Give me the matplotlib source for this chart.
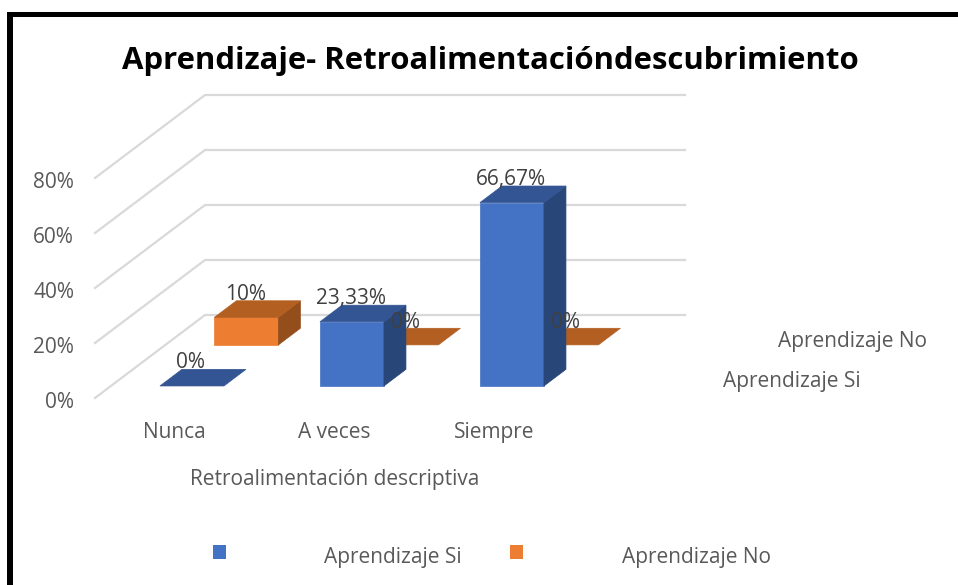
# Aprendizaje vs Retroalimentacion, 3D style bars drawn as sheared polygons
import matplotlib
matplotlib.use("Agg")
import matplotlib.pyplot as plt
from matplotlib.patches import Polygon, Rectangle

categories = ["Nunca", "A veces", "Siempre"]
si_values = [0, 23.33, 66.67]
no_values = [10, 0, 0]
si_labels = ["0%", "23,33%", "66,67%"]
no_labels = ["10%", "0%", "0%"]
ticks = [0, 20, 40, 60, 80]
tick_labels = ["0%", "20%", "40%", "60%", "80%"]

W, H = 958, 585
CAT_PX = 160.0      # pixels between categories
VAL_PX = 2.75       # pixels per percent
X0, Y0 = 176.0, 398.0   # pixel of category 0, value 0 on the front edge
WALL_DX = 110 / CAT_PX
WALL_DY = 83 / VAL_PX
BAR_W = 0.4
BAR_D = 0.2

BLUE, BLUE_TOP, BLUE_SIDE = "#4472c4", "#335593", "#294679"
ORANGE, ORANGE_TOP, ORANGE_SIDE = "#ed7d31", "#b45f22", "#934e1b"
TEXT = "#595959"
LABEL = "#404040"
FS = 15

plt.rcParams["font.family"] = ["Open Sans", "DejaVu Sans"]


def proj(x, v, d):
    # depth d goes from 0 (front edge) to 1 (back wall)
    return x + WALL_DX * d, v + WALL_DY * d


def draw_bar(ax, x, v, d, front, top, side, z):
    x0, x1 = x - BAR_W / 2, x + BAR_W / 2
    d1 = d + BAR_D
    if v > 0:
        ax.add_patch(Polygon([proj(x0, 0, d), proj(x1, 0, d), proj(x1, v, d), proj(x0, v, d)],
                             fc=front, ec=front, lw=0.5, zorder=z))
        ax.add_patch(Polygon([proj(x1, 0, d), proj(x1, 0, d1), proj(x1, v, d1), proj(x1, v, d)],
                             fc=side, ec=side, lw=0.5, zorder=z))
    ax.add_patch(Polygon([proj(x0, v, d), proj(x1, v, d), proj(x1, v, d1), proj(x0, v, d1)],
                         fc=top, ec=top, lw=0.5, zorder=z))


fig = plt.figure(figsize=(W / 100, H / 100), dpi=100)
ax = fig.add_axes([0, 0, 1, 1])
ax.set_xlim(-X0 / CAT_PX, (W - X0) / CAT_PX)
ax.set_ylim((Y0 - H) / VAL_PX, Y0 / VAL_PX)
ax.axis("off")


def px(x_pixel, y_pixel):
    # position for free texts given in figure pixels
    return x_pixel / W, 1 - y_pixel / H


# gridlines: floor/side wall then back wall
wall_end = (685 - 205) / CAT_PX
for t, lab in zip(ticks, tick_labels):
    a = proj(-81 / CAT_PX, t, 0)
    b = proj(-81 / CAT_PX, t, 1)
    c = (b[0] + wall_end, b[1])
    ax.plot([a[0], b[0], c[0]], [a[1], b[1], c[1]], color="#d9d9d9", lw=1.6, zorder=1,
            solid_joinstyle="miter")
    ax.text(-102 / CAT_PX, t - 4.5 / VAL_PX, lab, ha="right", va="center", fontsize=FS, color=TEXT, zorder=6)

# back row (No) first, front row (Si) over it
for i, v in enumerate(no_values):
    draw_bar(ax, i, v, 0.64, ORANGE, ORANGE_TOP, ORANGE_SIDE, 2)
for i, v in enumerate(si_values):
    draw_bar(ax, i, v, 0.145, BLUE, BLUE_TOP, BLUE_SIDE, 3)

# data labels
for i, (v, lab) in enumerate(zip(no_values, no_labels)):
    x, y = proj(i, v, 0.64 + BAR_D)
    ax.text(x - 23 / CAT_PX, y + 6 / VAL_PX, lab, ha="center", va="center", fontsize=FS, color=LABEL, zorder=7)
for i, (v, lab) in enumerate(zip(si_values, si_labels)):
    x, y = proj(i, v, 0.145 + BAR_D)
    ax.text(x - 23 / CAT_PX, y + 7 / VAL_PX, lab, ha="center", va="center", fontsize=FS, color=LABEL, zorder=7)

# category labels
for i, cat in enumerate(categories):
    ax.text(i - 0.01, -12.5, cat, ha="center", va="center", fontsize=FS, color=TEXT)

fig.text(*px(490, 61), "Aprendizaje- Retroalimentacióndescubrimiento", ha="center", va="center",
         fontsize=22.4, fontweight="bold", color="black")
fig.text(*px(335, 480), "Retroalimentación descriptiva", ha="center", va="center", fontsize=FS, color=TEXT)

# series names on the depth axis
fig.text(*px(852, 342), "Aprendizaje No", ha="center", va="center", fontsize=FS, color=TEXT)
fig.text(*px(792, 382), "Aprendizaje Si", ha="center", va="center", fontsize=FS, color=TEXT)

# legend
fig.patches.append(Rectangle(px(213, 559), 13 / W, 14 / H, transform=fig.transFigure, fc=BLUE, ec="none"))
fig.patches.append(Rectangle(px(510, 559), 13 / W, 14 / H, transform=fig.transFigure, fc=ORANGE, ec="none"))
fig.text(*px(393, 557), "Aprendizaje Si", ha="center", va="center", fontsize=FS, color=TEXT)
fig.text(*px(697, 557), "Aprendizaje No", ha="center", va="center", fontsize=FS, color=TEXT)

# black frame, only top and left are visible
fig.patches.append(Rectangle(px(7, 17), (W - 7) / W, 5 / H, transform=fig.transFigure, fc="black", ec="none"))
fig.patches.append(Rectangle(px(7, H), 6 / W, (H - 12) / H, transform=fig.transFigure, fc="black", ec="none"))

fig.savefig("out.png", dpi=100)
